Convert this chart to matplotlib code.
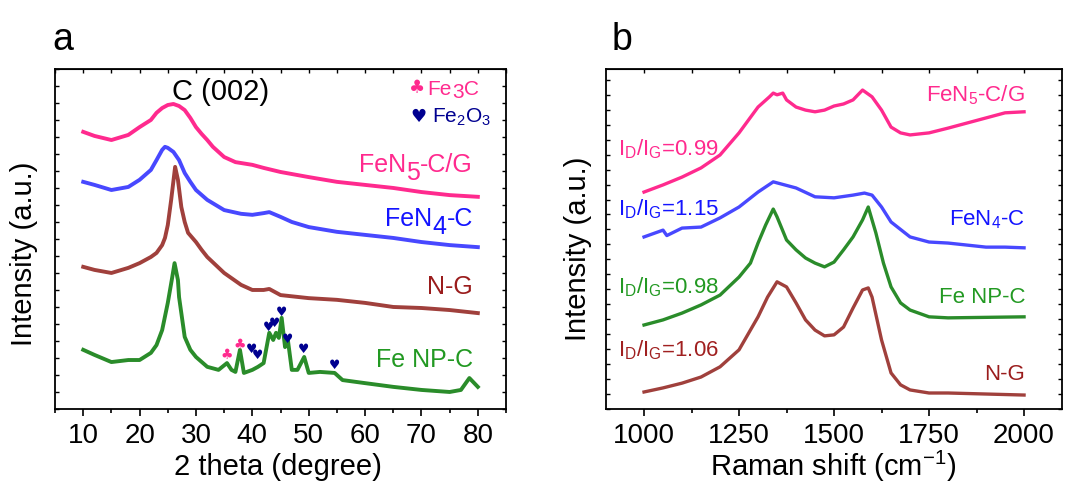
import numpy as np
import matplotlib
matplotlib.use('Agg')
import matplotlib.pyplot as plt
from matplotlib.ticker import MultipleLocator

plt.rcParams['font.family'] = ['Liberation Sans', 'DejaVu Sans']
plt.rcParams['mathtext.default'] = 'regular'

# ---- XRD patterns (offset, arbitrary units) ----
xrd_fen5_t = [10, 12, 15, 18, 20, 22, 23, 24, 25, 26, 27, 28, 29, 30, 31, 32, 33, 35, 37, 40,
              42, 45, 50, 55, 60, 65, 70, 75, 80]
xrd_fen5_i = [81.5, 80.3, 79.1, 80.6, 82.9, 85.0, 87.1, 88.5, 89.4, 89.7, 89.1, 87.9, 85.6, 82.9,
              80.9, 79.1, 77.1, 74.1, 72.6, 71.8, 70.9, 69.7, 68.2, 66.8, 65.9, 65.0, 63.8, 62.9, 62.4]

xrd_fen4_t = [10, 12, 15, 18, 20, 22, 23, 24, 24.5, 25, 26, 27, 28, 29, 30, 32, 35, 38, 40, 42,
              43, 45, 47, 50, 55, 60, 65, 70, 75, 80]
xrd_fen4_i = [66.8, 65.9, 64.4, 65.3, 67.4, 70.3, 73.2, 76.2, 77.1, 76.8, 75.6, 73.2, 69.4, 66.8,
              64.4, 61.5, 58.5, 57.4, 57.1, 57.6, 57.9, 56.5, 55.0, 53.5, 52.1, 51.2, 50.3, 49.1,
              48.2, 47.6]

xrd_ng_t = [10, 12, 15, 18, 20, 22, 23, 24, 24.5, 25, 25.6, 26.3, 26.8, 27.4, 28, 28.6, 30, 31,
            32, 35, 38, 40, 42, 43, 45, 50, 55, 60, 65, 70, 75, 80]
xrd_ng_i = [41.8, 40.9, 40.0, 41.5, 42.9, 44.7, 45.9, 48.2, 50.3, 54.1, 61.5, 71.2, 67.4, 59.4,
            55.0, 51.8, 49.1, 46.8, 44.7, 40.0, 36.5, 35.0, 35.0, 35.3, 33.5, 32.6, 32.1, 31.2,
            30.0, 29.7, 29.1, 28.2]

xrd_fenp_t = [10, 12, 15, 18, 20, 22, 23, 24, 25, 25.7, 26.2, 26.8, 27, 28, 29, 30, 32, 34, 35.5,
              36.3, 37, 37.8, 38.5, 40, 41, 42, 43, 43.7, 44.2, 44.7, 45.2, 45.8, 46.3, 47, 48,
              49.2, 50, 52, 54.6, 56, 60, 65, 70, 75, 77, 78.5, 80]
xrd_fenp_i = [17.4, 15.9, 13.8, 14.4, 14.4, 16.5, 18.8, 23.2, 31.2, 37.9, 42.9, 37.9, 32.9, 21.2,
              17.4, 15.3, 12.4, 11.5, 13.5, 11.5, 10.9, 17.4, 10.6, 11.5, 12.4, 13.5, 22.4, 20.3,
              22.4, 20.9, 26.8, 18.2, 20.3, 11.5, 11.5, 15.3, 10.6, 10.9, 10.6, 8.5, 7.6, 6.5,
              5.6, 5.0, 5.6, 9.1, 6.5]

# phase markers on the Fe NP-C pattern
fe3c_t = [35.4, 37.7]
fe3c_i = [15.9, 18.8]
fe2o3_t = [39.9, 40.9, 42.9, 44.0, 45.2, 46.2, 49.1, 54.6]
fe2o3_i = [17.4, 15.6, 24.1, 25.0, 28.5, 20.3, 17.6, 12.9]

# ---- Raman spectra (offset, arbitrary units) ----
ram_fen5_x = [1000, 1050, 1100, 1150, 1200, 1250, 1300, 1330, 1340, 1350, 1365, 1375, 1400, 1425,
              1450, 1475, 1500, 1525, 1550, 1575, 1600, 1625, 1650, 1675, 1700, 1750, 1800, 1850,
              1900, 1950, 2000]
ram_fen5_i = [63.8, 65.9, 68.2, 70.9, 74.7, 81.2, 88.8, 91.8, 92.9, 92.4, 92.9, 90.9, 88.8, 87.9,
              87.4, 87.9, 89.1, 89.7, 90.9, 93.8, 91.8, 87.9, 82.9, 81.2, 80.6, 81.2, 82.6, 84.1,
              85.6, 87.1, 87.4]

ram_fen4_x = [1000, 1050, 1060, 1100, 1150, 1200, 1250, 1300, 1340, 1350, 1400, 1450, 1500, 1550,
              1580, 1600, 1625, 1650, 1700, 1750, 1800, 1850, 1900, 1950, 2000]
ram_fen4_i = [50.6, 52.6, 51.0, 53.2, 53.5, 56.2, 59.4, 63.8, 66.8, 66.5, 65.0, 62.4, 62.1, 62.9,
              63.5, 62.9, 59.4, 55.0, 50.6, 49.1, 48.8, 48.2, 47.6, 47.6, 47.4]

ram_fenp_x = [1000, 1050, 1100, 1150, 1200, 1250, 1280, 1300, 1320, 1340, 1350, 1375, 1400, 1425,
              1450, 1475, 1500, 1525, 1550, 1575, 1590, 1610, 1630, 1650, 1675, 1700, 1750, 1800,
              2000]
ram_fenp_i = [24.7, 26.2, 28.2, 30.6, 33.5, 38.8, 42.9, 48.8, 54.1, 58.8, 56.5, 49.7, 46.8, 44.4,
              42.9, 41.8, 43.2, 46.8, 50.6, 55.6, 59.4, 51.8, 42.9, 35.9, 31.2, 29.1, 27.1, 26.8,
              27.1]

ram_ng_x = [1000, 1050, 1100, 1150, 1200, 1250, 1300, 1325, 1350, 1375, 1400, 1425, 1450, 1475,
            1500, 1525, 1550, 1575, 1590, 1600, 1625, 1650, 1675, 1700, 1750, 1800, 1900, 2000]
ram_ng_i = [5.0, 6.2, 7.6, 9.4, 12.4, 17.4, 27.1, 32.9, 37.4, 35.9, 31.2, 26.2, 23.2, 21.5, 21.8,
            24.1, 29.7, 35.0, 35.6, 32.9, 20.3, 10.6, 7.1, 5.6, 4.7, 4.7, 4.4, 4.1]

ratio_labels = ['0.99', '1.15', '0.98', '1.06']

PINK = '#ff2a8e'
BLUE = '#4848ff'
BROWN = '#a0403c'
GREEN = '#2a8c2a'
NAVY = '#000090'

fig = plt.figure(figsize=(10.73, 4.87), dpi=100)
ax1 = fig.add_axes([0.0513, 0.1602, 0.4203, 0.6982])
ax2 = fig.add_axes([0.5648, 0.1602, 0.4250, 0.6982])
renderer = fig.canvas.get_renderer()


def chem_label(ax, x, y, parts, color, size, ha='right'):
    # write a formula piece by piece so the digits can sit lower at full size
    widths = []
    for s, dy in parts:
        t = ax.text(0, 0, s, fontsize=size)
        widths.append(t.get_window_extent(renderer).width * 72 / fig.dpi)
        t.remove()
    pos = -sum(widths) if ha == 'right' else 0.0
    for (s, dy), w in zip(parts, widths):
        ax.annotate(s, (x, y), xytext=(pos, dy), textcoords='offset points',
                    ha='left', va='baseline', fontsize=size, color=color)
        pos += w


def style(ax):
    for sp in ax.spines.values():
        sp.set_linewidth(1.3)
    ax.set_ylim(0, 100)
    ax.tick_params(axis='x', which='both', direction='out', labelsize=20, width=1.2, pad=5)
    ax.tick_params(axis='x', which='major', length=5)
    ax.tick_params(axis='x', which='minor', length=3)
    ax.tick_params(axis='y', which='both', direction='in', left=True, right=True,
                   labelleft=False, length=3, width=1)
    top = ax.secondary_xaxis('top')
    top.tick_params(axis='x', which='both', direction='in', labeltop=False, length=3, width=1)
    return top


def marker(ax, x, y, sym, color, size=9):
    ax.text(x, y, sym, color=color, fontsize=size, ha='center', va='center',
            family='DejaVu Sans')


# ---- panel a: XRD ----
ax1.plot(xrd_fen5_t, xrd_fen5_i, color=PINK, lw=2.8)
ax1.plot(xrd_fen4_t, xrd_fen4_i, color=BLUE, lw=2.8)
ax1.plot(xrd_ng_t, xrd_ng_i, color=BROWN, lw=2.8)
ax1.plot(xrd_fenp_t, xrd_fenp_i, color=GREEN, lw=2.8)
ax1.set_xlim(5, 85)
ax1.set_xticks(np.arange(10, 81, 10))
ax1.xaxis.set_minor_locator(MultipleLocator(5))
ax1.yaxis.set_major_locator(MultipleLocator(5))
top1 = style(ax1)
top1.set_xticks(np.arange(10, 81, 10))
top1.xaxis.set_minor_locator(MultipleLocator(5))

for t, i in zip(fe3c_t, fe3c_i):
    marker(ax1, t, i, '\u2663', PINK, 10)
for t, i in zip(fe2o3_t, fe2o3_i):
    marker(ax1, t, i, '\u2665', NAVY)

ax1.text(34.3, 93.2, 'C (002)', fontsize=21, ha='center', va='center')
marker(ax1, 69.2, 94.4, '\u2663', PINK, 13)
chem_label(ax1, 71.1, 92.4, [('Fe', 0), ('3', -2), ('C', 0)], PINK, 15, ha='left')
marker(ax1, 69.4, 85.9, '\u2665', NAVY, 13)
ax1.text(71.8, 85.9, 'Fe$_2$O$_3$', color=NAVY, fontsize=15, ha='left', va='center')

chem_label(ax1, 79.1, 69.7, [('FeN', 0), ('5', -6), ('-C/G', 0)], PINK, 18)
chem_label(ax1, 79.1, 53.8, [('FeN', 0), ('4', -6), ('-C', 0)], '#1414ff', 18)
ax1.text(79.1, 36.0, 'N-G', color='#9a1c1c', fontsize=18, ha='right', va='center')
ax1.text(79.1, 14.5, 'Fe NP-C', color='#229922', fontsize=18, ha='right', va='center')

ax1.set_xlabel('2 theta (degree)', fontsize=21)
ax1.set_ylabel('Intensity (a.u.)', fontsize=21)
ax1.xaxis.label.set_va('center')
ax1.xaxis.set_label_coords(0.494, -0.17)
ax1.yaxis.label.set_va('center')
ax1.yaxis.set_label_coords(-0.069, 0.455)

# ---- panel b: Raman ----
ax2.plot(ram_fen5_x, ram_fen5_i, color=PINK, lw=2.4)
ax2.plot(ram_fen4_x, ram_fen4_i, color=BLUE, lw=2.4)
ax2.plot(ram_fenp_x, ram_fenp_i, color=GREEN, lw=2.4)
ax2.plot(ram_ng_x, ram_ng_i, color=BROWN, lw=2.4)
ax2.set_xlim(900, 2100)
ax2.set_xticks(np.arange(1000, 2001, 250))
ax2.xaxis.set_minor_locator(MultipleLocator(125))
ax2.yaxis.set_major_locator(MultipleLocator(4.4))
top2 = style(ax2)
top2.set_xticks(np.arange(1000, 2001, 250))
top2.xaxis.set_minor_locator(MultipleLocator(125))

ax2.text(2003, 92.4, 'FeN$_5$-C/G', color=PINK, fontsize=16, ha='right', va='center')
ax2.text(2003, 55.6, 'FeN$_4$-C', color='#1414ff', fontsize=16, ha='right', va='center')
ax2.text(2003, 32.9, 'Fe NP-C', color='#229922', fontsize=16, ha='right', va='center')
ax2.text(2003, 10.0, 'N-G', color='#9a1c1c', fontsize=16, ha='right', va='center')

ratio_y = [74.7, 56.8, 34.1, 15.6]
ratio_c = [PINK, '#1414ff', '#229922', '#a02020']
for lab, y, c in zip(ratio_labels, ratio_y, ratio_c):
    ax2.text(931, y, 'I$_D$/I$_G$=' + lab, color=c, fontsize=16, ha='left', va='baseline')

ax2.set_xlabel('Raman shift (cm$^{-1}$)', fontsize=21)
ax2.set_ylabel('Intensity (a.u.)', fontsize=21)
ax2.xaxis.label.set_va('center')
ax2.xaxis.set_label_coords(0.498, -0.17)
ax2.yaxis.label.set_va('center')
ax2.yaxis.set_label_coords(-0.061, 0.47)

fig.text(0.0485, 0.897, 'a', fontsize=27, ha='left', va='baseline')
fig.text(0.570, 0.897, 'b', fontsize=27, ha='left', va='baseline')

fig.savefig('out.png', dpi=100)
